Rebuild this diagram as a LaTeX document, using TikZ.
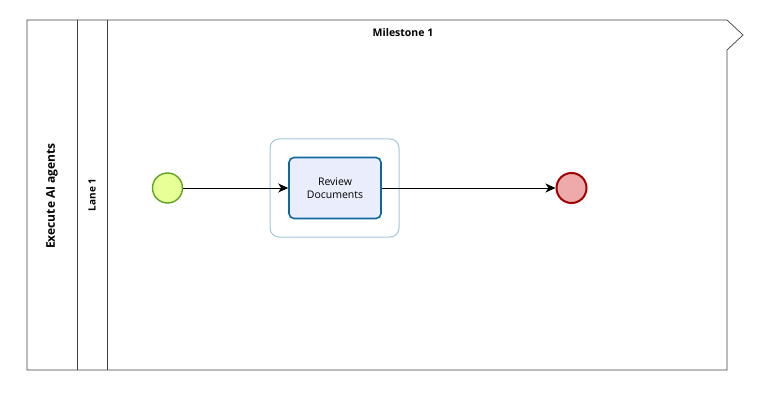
\documentclass[tikz,border=0pt]{standalone}
\usepackage{fontspec}
\setmainfont{Open Sans}
\usetikzlibrary{shapes,arrows,positioning,arrows.meta}
\usepackage{xcolor}

\definecolor{startfill}{HTML}{E6FF97}
\definecolor{startline}{HTML}{62A420}
\definecolor{endfill}{HTML}{EEAAAA}
\definecolor{endline}{HTML}{A20000}
\definecolor{taskfill}{HTML}{EAEEFC}
\definecolor{taskline}{HTML}{10679A}
\definecolor{groupline}{HTML}{A5C8D8}
\definecolor{poolline}{HTML}{404040}

\begin{document}
\begin{tikzpicture}[x=1pt,y=1pt,node distance=2cm]
    \tikzstyle{event} = [circle, minimum size=30pt, inner sep=0pt]
    \tikzstyle{task} = [rectangle, rounded corners=5pt, draw=taskline,
               fill=taskfill, line width=1.6pt, minimum width=92pt,
               minimum height=61pt, align=center, font=\fontsize{10.5}{13.5}\selectfont]
    \tikzstyle{line} = [draw, -{Stealth[length=10pt,width=9pt,inset=3pt]}, line width=0.9pt]
    \tikzstyle{header} = [font=\bfseries\fontsize{10}{12}\selectfont]

    % Canvas
    \useasboundingbox (0,0) rectangle (766,-401);

    % Pool and lane
    \draw [poolline, line width=0.7pt]
      (27,-20) -- (727,-20) -- (743,-35) -- (727,-50) -- (727,-370) -- (27,-370) -- cycle;
    \draw [poolline, line width=0.5pt] (77,-20) -- (77,-370);
    \draw [poolline, line width=0.5pt] (107,-20) -- (107,-370);

    \node [header, rotate=90, font=\bfseries\fontsize{12}{14}\selectfont] (pool) at (52,-196) {Execute AI agents};
    \node [header, rotate=90] (lane) at (92,-195) {Lane 1};
    \node [header, font=\bfseries\fontsize{10.5}{12}\selectfont] (milestone) at (403,-33) {Milestone 1};

    % Group around task
    \node [draw=groupline, line width=1pt, rounded corners=9pt,
      minimum width=129pt, minimum height=98pt] (group) at (334.5,-188) {};

    % Flow
    \node [task] (review) at (335,-188) {Review\\Documents};
    \node [event, draw=startline, fill=startfill, line width=1.4pt] (start) at (167.5,-188) {};
    \node [event, draw=endline, fill=endfill, line width=2pt] (end) at (571.5,-188) {};

    \path [line] (start) -- (review);
    \path [line] (review) -- (end);

  \end{tikzpicture}
\end{document}
